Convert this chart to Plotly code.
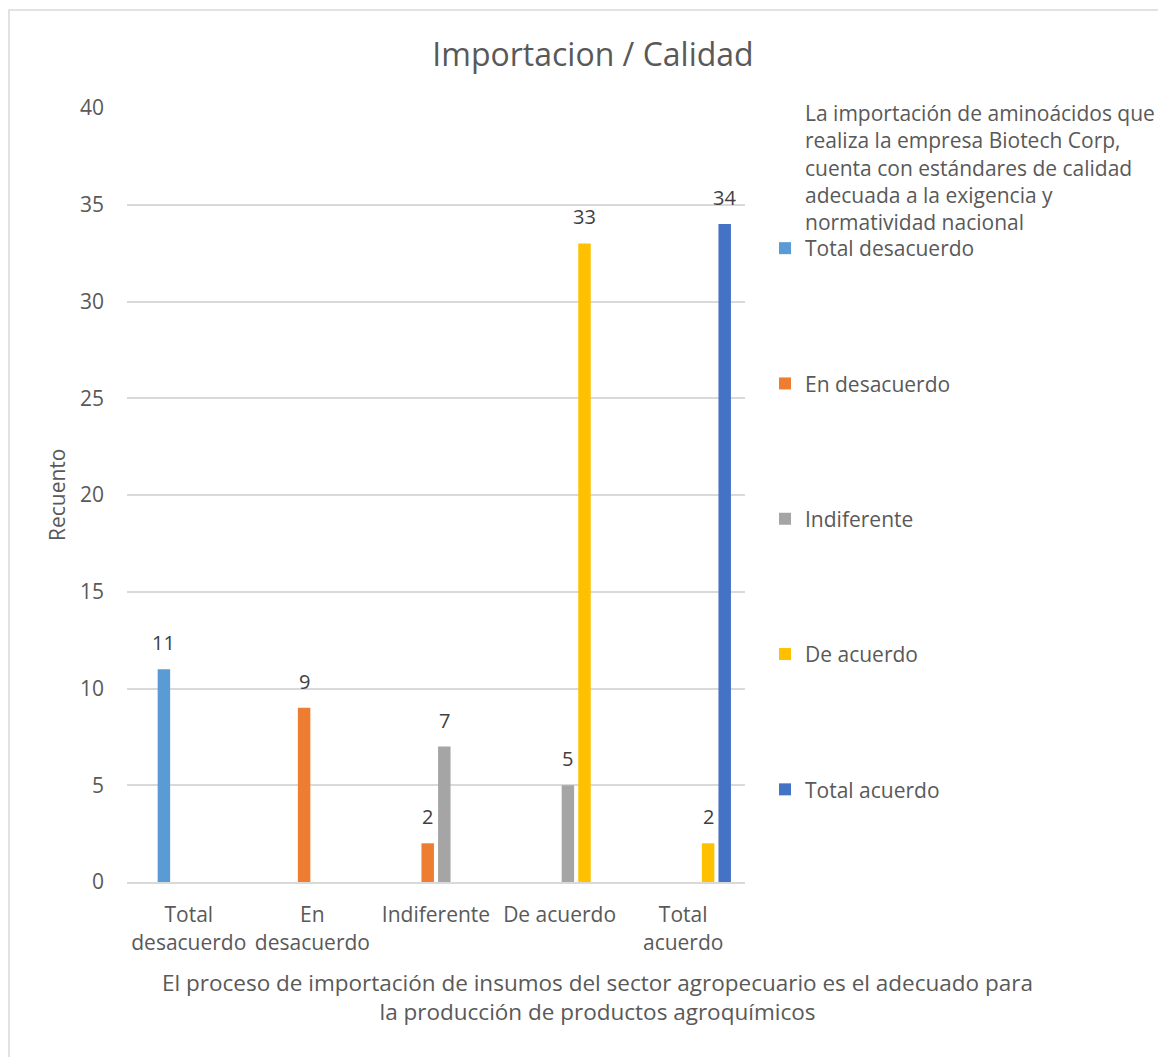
import plotly.graph_objects as go

categories = ["Total desacuerdo", "En desacuerdo", "Indiferente", "De acuerdo", "Total acuerdo"]
tick_labels = ["Total<br>desacuerdo", "En<br>desacuerdo", "Indiferente", "De acuerdo", "Total<br>acuerdo"]
series_names = ["Total desacuerdo", "En desacuerdo", "Indiferente", "De acuerdo", "Total acuerdo"]
s_total_desacuerdo = [11, None, None, None, None]
s_en_desacuerdo = [None, 9, 2, None, None]
s_indiferente = [None, None, 7, 5, None]
s_de_acuerdo = [None, None, None, 33, 2]
s_total_acuerdo = [None, None, None, None, 34]
series_values = [s_total_desacuerdo, s_en_desacuerdo, s_indiferente, s_de_acuerdo, s_total_acuerdo]
colors = ["#5B9BD5", "#ED7D31", "#A5A5A5", "#FFC000", "#4472C4"]

title = "Importacion / Calidad"
legend_title = ("La importación de aminoácidos que<br>realiza la empresa Biotech Corp,<br>"
                "cuenta con estándares de calidad<br>adecuada a la exigencia y<br>normatividad nacional")
x_title = ("El proceso de importación de insumos del sector agropecuario es el adecuado para<br>"
           "la producción de productos agroquímicos")
y_title = "Recuento"

FONT = "Open Sans"
TXT = "#595959"

# six slots per category (first slot empty), five visible series
slot = 0.1343
bar_w = 0.101
centers = [(k + 1 - 2.5) * slot for k in range(5)]

fig = go.Figure()
annotations = []
xs = list(range(len(categories)))
for k, (name, vals, col) in enumerate(zip(series_names, series_values, colors)):
    fig.add_trace(go.Bar(
        x=xs, y=vals, name=name, marker=dict(color=col, line=dict(width=0)),
        width=bar_w, offset=centers[k] - bar_w / 2, legendgroup=name,
    ))
    for i, v in enumerate(vals):
        if v is not None:
            annotations.append(dict(
                x=xs[i] + centers[k], y=v, xref="x", yref="y", text=str(v),
                showarrow=False, yanchor="bottom", yshift=11,
                font=dict(family=FONT, size=20, color="#404040"),
            ))

W, H = 1166, 1057
OFF = 8  # page body margin
L, R, T, B = 127, 745, 108, 882
pw, ph = R - L, B - T

def px(x):
    return (x - L) / pw

def py(y):
    return (B - y) / ph

annotations += [
    dict(text=legend_title, xref="paper", yref="paper", x=px(803), y=py(97),
         xanchor="left", yanchor="top", align="left", showarrow=False,
         font=dict(family=FONT, size=21, color=TXT)),
    dict(text=x_title, xref="paper", yref="paper", x=px(597), y=py(997),
         xanchor="center", yanchor="middle", align="center", showarrow=False,
         font=dict(family=FONT, size=22.5, color=TXT)),
    dict(text=y_title, xref="paper", yref="paper", x=px(57), y=py(495),
         xanchor="center", yanchor="middle", textangle=-90, showarrow=False,
         font=dict(family=FONT, size=21, color=TXT)),
]

fig.update_layout(
    width=W, height=H,
    margin=dict(l=L - OFF, r=W - (R - OFF), t=T - OFF, b=H - (B - OFF), pad=0),
    paper_bgcolor="white", plot_bgcolor="white",
    barmode="group",
    title=dict(text=title, x=(593 - OFF) / W, xanchor="center", y=1 - (55 - OFF) / H,
               yanchor="middle", font=dict(family=FONT, size=32, color=TXT)),
    font=dict(family=FONT, color=TXT),
    showlegend=True,
    legend=dict(x=px(765), y=py(228), xanchor="left", yanchor="top",
                traceorder="grouped", tracegroupgap=105,
                font=dict(family=FONT, size=21, color=TXT),
                bgcolor="rgba(0,0,0,0)"),
    xaxis=dict(range=[-0.5, 4.5], tickmode="array", tickvals=xs, ticktext=tick_labels,
               showgrid=False, showline=True, linecolor="#D9D9D9", linewidth=2,
               ticks="", ticklabelstandoff=13, zeroline=False,
               tickfont=dict(family=FONT, size=21, color=TXT)),
    yaxis=dict(range=[0, 40], dtick=5, showgrid=True, gridcolor="#D9D9D9", gridwidth=1.5,
               zeroline=False, showline=False, ticks="", ticklabelstandoff=22,
               tickfont=dict(family=FONT, size=21, color=TXT)),
    annotations=annotations,
    shapes=[dict(type="rect", xref="paper", yref="paper",
                 x0=px(9), x1=px(1180), y0=py(1070), y1=py(10),
                 line=dict(color="#D9D9D9", width=1.5), fillcolor="rgba(0,0,0,0)", layer="below")],
)

fig.write_html("out.html")
